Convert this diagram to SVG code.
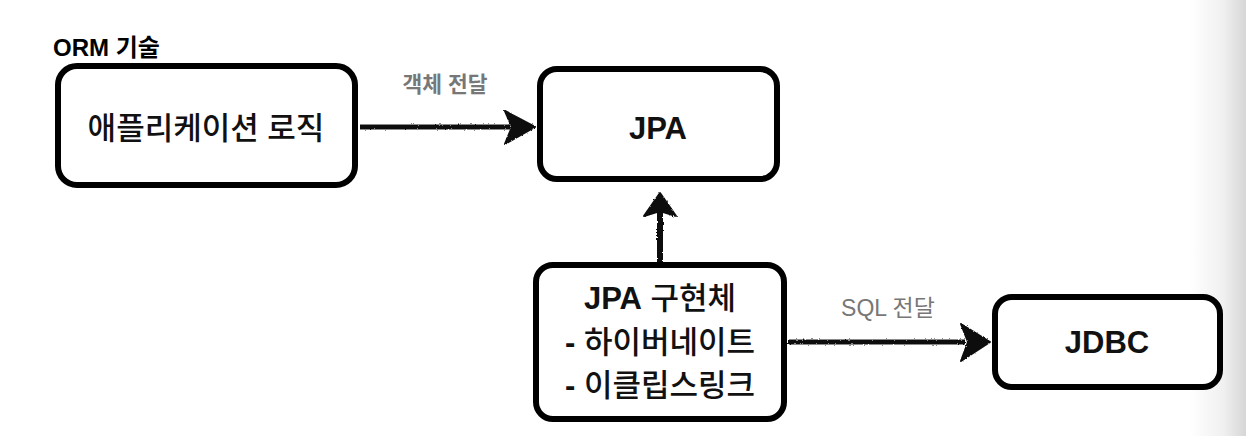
<svg xmlns="http://www.w3.org/2000/svg" width="1246" height="436" viewBox="0 0 1246 436">
<defs>
<linearGradient id="edge" x1="0" y1="0" x2="1" y2="0">
<stop offset="0" stop-color="#ffffff"/>
<stop offset="0.6" stop-color="#f0f0f0"/>
<stop offset="1" stop-color="#d6d6d6"/>
</linearGradient>
<filter id="rough" x="-10%" y="-50%" width="120%" height="200%">
<feTurbulence type="fractalNoise" baseFrequency="0.6" numOctaves="2" seed="3" result="n"/>
<feDisplacementMap in="SourceGraphic" in2="n" scale="2.5" xChannelSelector="R" yChannelSelector="G"/>
</filter>
<style>
.box{fill:#ffffff;stroke:#000000;stroke-width:6}
.t{font-family:"Liberation Sans","Noto Sans CJK KR",sans-serif;fill:#111111;text-anchor:middle}
.big{font-size:31px;font-weight:500}
.bold{font-weight:bold;font-size:31px}
.b{font-weight:bold}
.lbl{font-family:"Liberation Sans","Noto Sans CJK KR",sans-serif;fill:#777777;text-anchor:middle}
.line{stroke:#111111;stroke-width:5;fill:none}
.head{fill:#111111;stroke:#111111;stroke-width:2;stroke-linejoin:round}
</style>
</defs>
<rect x="0" y="0" width="1246" height="436" fill="#ffffff"/>
<rect x="1190" y="0" width="56" height="436" fill="url(#edge)"/>
<text x="53" y="56" style="font-family:'Liberation Sans','Noto Sans CJK KR',sans-serif;font-weight:bold;font-size:24px;fill:#000">ORM 기술</text>
<g id="connectors" filter="url(#rough)">
<line class="line" x1="360" y1="127" x2="510" y2="127"/>
<polygon class="head" points="505,111 535,127 505,144 512,127"/>
<line class="line" x1="660" y1="262" x2="660" y2="212" style="stroke-width:6"/>
<polygon class="head" points="644,216 660,193 676,216 660,211"/>
<line class="line" x1="788" y1="342" x2="965" y2="342"/>
<polygon class="head" points="961,324 990,342 961,361 968,342"/>
</g>
<g id="labels">
<text class="lbl" x="445" y="92" style="font-weight:bold;font-size:21.5px">객체 전달</text>
<text class="lbl" x="888" y="316" style="font-size:23px">SQL 전달</text>
</g>
<g id="app">
<rect class="box" x="58" y="66" width="297" height="119" rx="19"/>
<text class="t big" x="206" y="139">애플리케이션 로직</text>
</g>
<g id="jpa">
<rect class="box" x="540" y="69" width="237" height="110" rx="17"/>
<text class="t bold" x="658" y="139">JPA</text>
</g>
<g id="impl">
<rect class="box" x="536" y="265" width="248" height="154" rx="17"/>
<text class="t big" x="660" y="309"><tspan class="b">JPA</tspan> 구현체</text>
<text class="t big" x="660" y="353"><tspan class="b">-</tspan> 하이버네이트</text>
<text class="t big" x="660" y="396"><tspan class="b">-</tspan> 이클립스링크</text>
</g>
<g id="jdbc">
<rect class="box" x="995" y="297" width="225" height="90" rx="17"/>
<text class="t bold" x="1107" y="353">JDBC</text>
</g>
</svg>
